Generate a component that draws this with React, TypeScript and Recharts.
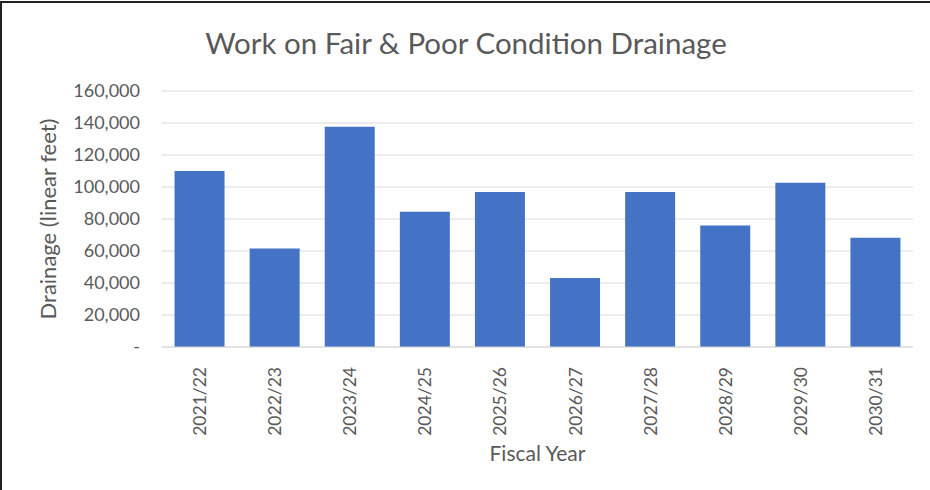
import { BarChart, Bar, XAxis, YAxis, CartesianGrid } from "recharts";

const years = ["2021/22", "2022/23", "2023/24", "2024/25", "2025/26", "2026/27", "2027/28", "2028/29", "2029/30", "2030/31"];
const drainage = [110000, 61500, 137700, 84500, 96800, 43100, 96800, 75900, 102600, 68300];
const yTicks = [0, 20000, 40000, 60000, 80000, 100000, 120000, 140000, 160000];

const data = years.map((year, i) => ({ year, value: drainage[i] }));

const FONT = "Lato, 'Open Sans', sans-serif";
const TEXT = "#595959";

const fmt = (v: number) => (v === 0 ? "-" : v.toLocaleString("en-US"));

function YearTick({ x, y, payload }: any) {
  return (
    <text
      x={x}
      y={y}
      transform={`rotate(-90, ${x}, ${y})`}
      textAnchor="end"
      dominantBaseline="central"
      fill={TEXT}
      fontSize={17.5}
      fontFamily={FONT}
    >
      {payload.value}
    </text>
  );
}

export default function App() {
  return (
    <div style={{ position: "absolute", left: 0, top: 0, width: 930, height: 490, background: "#fff" }}>
      <div
        style={{
          position: "absolute",
          left: 0,
          top: 1,
          width: 930,
          height: 489,
          borderTop: "2px solid #222",
          borderLeft: "2px solid #222",
          boxSizing: "border-box",
        }}
      />
      <div
        style={{
          position: "absolute",
          left: 0,
          width: 930,
          top: 25,
          textAlign: "center",
          fontFamily: FONT,
          fontSize: 29.5,
          color: TEXT,
          paddingLeft: 1,
        }}
      >
        Work on Fair &amp; Poor Condition Drainage
      </div>
      <BarChart
        width={930}
        height={490}
        data={data}
        margin={{ top: 91, right: 17, bottom: 0, left: 0 }}
        barCategoryGap="16.7%"
      >
        <CartesianGrid stroke="#d9d9d9" vertical={false} />
        <XAxis
          dataKey="year"
          height={143}
          axisLine={{ stroke: "#d9d9d9" }}
          tickLine={false}
          tick={<YearTick />}
          tickMargin={14}
          interval={0}
          label={{
            value: "Fiscal Year",
            position: "insideBottom",
            offset: 29,
            fill: TEXT,
            fontSize: 21,
            fontFamily: FONT,
          }}
        />
        <YAxis
          width={162}
          domain={[0, 160000]}
          ticks={yTicks}
          tickFormatter={fmt}
          axisLine={false}
          tickLine={false}
          tickSize={0}
          tickMargin={22}
          tick={{ fill: TEXT, fontSize: 18, fontFamily: FONT }}
          label={{
            value: "Drainage (linear feet)",
            angle: -90,
            position: "insideLeft",
            offset: 48,
            fill: TEXT,
            fontSize: 22,
            fontFamily: FONT,
            style: { textAnchor: "middle" },
          }}
        />
        <Bar dataKey="value" fill="#4472C4" isAnimationActive={false} />
      </BarChart>
    </div>
  );
}
